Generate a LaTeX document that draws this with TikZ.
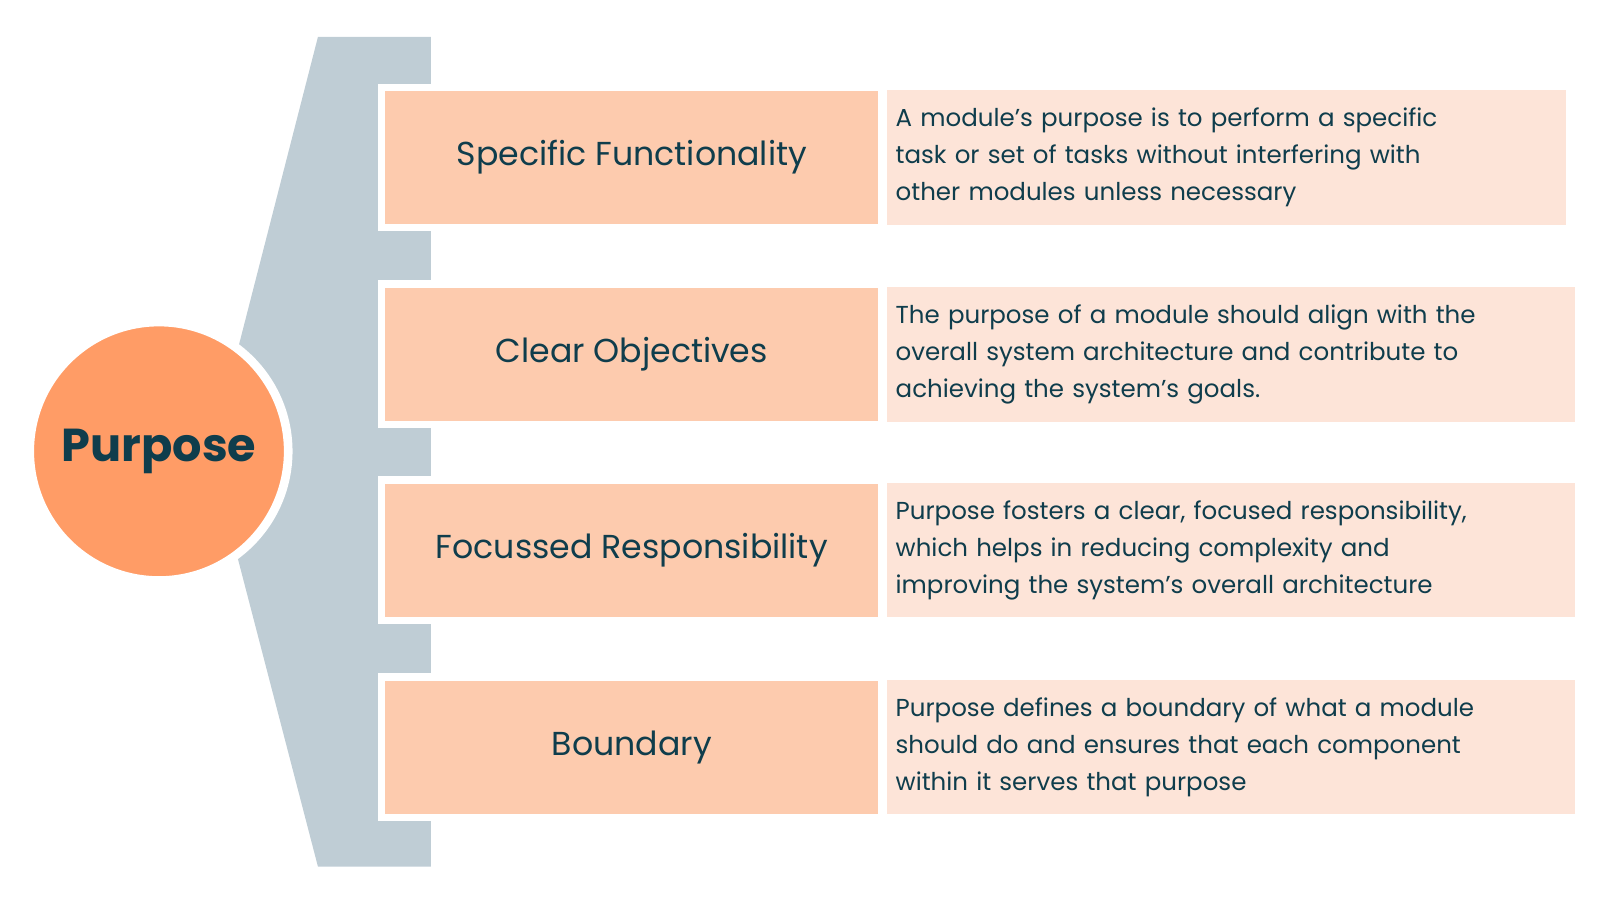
\documentclass[tikz,border=0pt]{standalone}
\usepackage{fontspec}
\setmainfont{Poppins}
\usepackage{tikz}
\usetikzlibrary{backgrounds}
\definecolor{spine}{HTML}{BFCDD5}
\definecolor{boxfill}{HTML}{FDCBAE}
\definecolor{descfill}{HTML}{FDE4D8}
\definecolor{ball}{HTML}{FF9C66}
\definecolor{ink}{HTML}{0F3D4C}
\begin{document}
\begin{tikzpicture}[x=0.025cm,y=-0.025cm,
	titlebox/.style={fill=boxfill, draw=white, line width=5pt, minimum width=488*0.025cm, minimum height=137*0.025cm, text=ink, font=\fontsize{23}{28}\selectfont},
	descbox/.style={fill=descfill, minimum height=131*0.025cm, text=ink, anchor=west, align=left, inner xsep=0.2cm, font=\fontsize{17}{25.5}\selectfont}]

	\useasboundingbox (0,0) rectangle (1560,878);
	\fill[spine] (310,36) -- (420,36) -- (420,845) -- (310,845) -- (232,545) -- (232,340) -- cycle;

	\node[circle, fill=ball, draw=white, line width=6pt, minimum size=252*0.025cm, text=ink, font=\bfseries\fontsize{32}{40}\selectfont] (purpose) at (155,440) {Purpose};

	\node[titlebox] (func) at (616,153.5) {Specific Functionality};
	\node[titlebox] (obj) at (616,345.5) {Clear Objectives};
	\node[titlebox] (resp) at (616,536.5) {Focussed Responsibility};
	\node[titlebox] (bound) at (616,728.5) {Boundary};

	\node[descbox, text width=646*0.025cm] (funcd) at (865,153.5) {A module's purpose is to perform a specific\\task or set of tasks without interfering with\\other modules unless necessary};
	\node[descbox, text width=654*0.025cm] (objd) at (865,345.5) {The purpose of a module should align with the\\overall system architecture and contribute to\\achieving the system's goals.};
	\node[descbox, text width=654*0.025cm] (respd) at (865,536.5) {Purpose fosters a clear, focused responsibility,\\which helps in reducing complexity and\\improving the system's overall architecture};
	\node[descbox, text width=654*0.025cm] (boundd) at (865,728.5) {Purpose defines a boundary of what a module\\should do and ensures that each component\\within it serves that purpose};

\end{tikzpicture}
\end{document}
